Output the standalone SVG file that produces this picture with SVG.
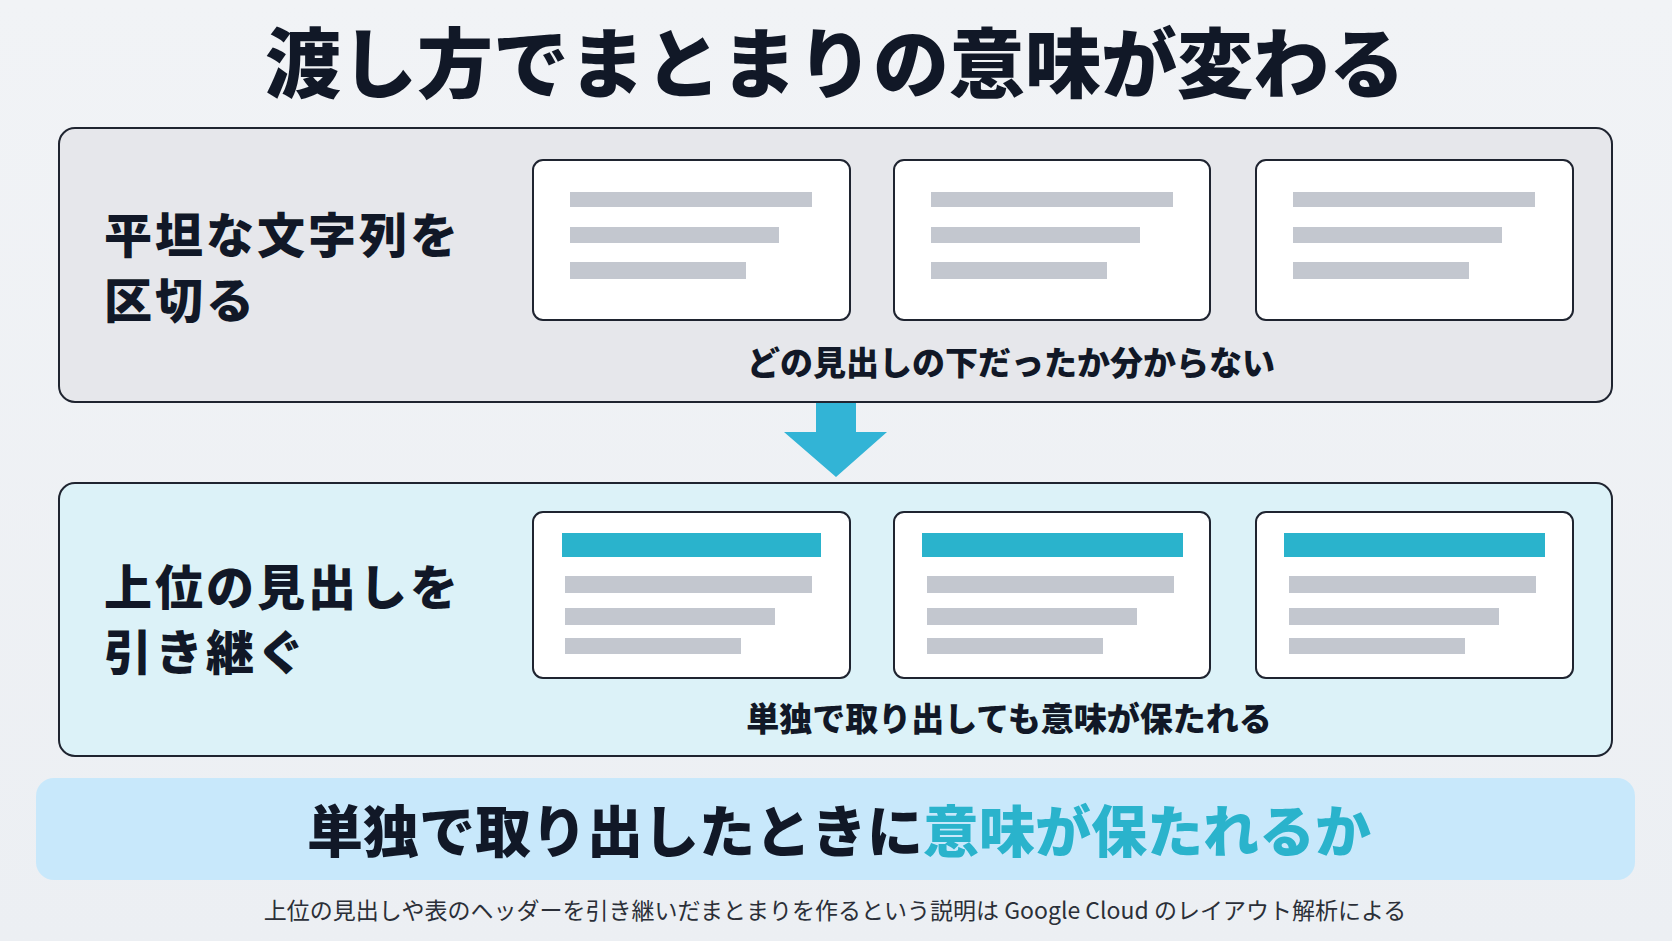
<svg xmlns="http://www.w3.org/2000/svg" width="1672" height="941" viewBox="0 0 1672 941">
<style>
text{font-family:"Noto Sans CJK JP","Noto Sans",sans-serif;fill:#111827}
.b{font-weight:900}
.lbl{font-size:48px;letter-spacing:3px}
.card{fill:#fff;stroke:#1f2430;stroke-width:2}
.g{fill:#c3c7cf}
.t{fill:#2ab3cc}
</style>
<defs><linearGradient id="bg" x1="0" y1="0" x2="0" y2="1"><stop offset="0" stop-color="#f1f3f6"/><stop offset="1" stop-color="#eceff3"/></linearGradient></defs>
<rect width="1672" height="941" fill="url(#bg)"/>
<text x="835" y="92" text-anchor="middle" class="b" font-size="76">渡し方でまとまりの意味が変わる</text>
<g id="panel1">
<rect x="59" y="128" width="1553" height="274" rx="16" fill="#e6e7eb" stroke="#1f2430" stroke-width="2"/>
<text x="104" y="253" class="b lbl">平坦な文字列を</text>
<text x="104" y="318" class="b lbl">区切る</text>
<text x="1011" y="375" text-anchor="middle" class="b" font-size="33">どの見出しの下だったか分からない</text>
</g>
<g id="card1a"><rect class="card" x="533" y="160" width="317" height="160" rx="10"/><rect class="g" x="570" y="192" width="242" height="15"/><rect class="g" x="570" y="227" width="209" height="16"/><rect class="g" x="570" y="262" width="176" height="17"/></g>
<g id="card1b"><rect class="card" x="894" y="160" width="316" height="160" rx="10"/><rect class="g" x="931" y="192" width="242" height="15"/><rect class="g" x="931" y="227" width="209" height="16"/><rect class="g" x="931" y="262" width="176" height="17"/></g>
<g id="card1c"><rect class="card" x="1256" y="160" width="317" height="160" rx="10"/><rect class="g" x="1293" y="192" width="242" height="15"/><rect class="g" x="1293" y="227" width="209" height="16"/><rect class="g" x="1293" y="262" width="176" height="17"/></g>
<g id="connectors">
<path d="M816 403H856V432H887L836 477L784 432H816Z" fill="#32b4d6"/>
</g>
<g id="panel2">
<rect x="59" y="483" width="1553" height="273" rx="16" fill="#dcf2f8" stroke="#1f2430" stroke-width="2"/>
<text x="104" y="605" class="b lbl">上位の見出しを</text>
<text x="104" y="670" class="b lbl">引き継ぐ</text>
<text x="1009" y="731" text-anchor="middle" class="b" font-size="33">単独で取り出しても意味が保たれる</text>
</g>
<g id="card2a"><rect class="card" x="533" y="512" width="317" height="166" rx="10"/><rect class="t" x="562" y="533" width="259" height="24"/><rect class="g" x="565" y="576" width="247" height="17"/><rect class="g" x="565" y="608" width="210" height="17"/><rect class="g" x="565" y="638" width="176" height="16"/></g>
<g id="card2b"><rect class="card" x="894" y="512" width="316" height="166" rx="10"/><rect class="t" x="922" y="533" width="261" height="24"/><rect class="g" x="927" y="576" width="247" height="17"/><rect class="g" x="927" y="608" width="210" height="17"/><rect class="g" x="927" y="638" width="176" height="16"/></g>
<g id="card2c"><rect class="card" x="1256" y="512" width="317" height="166" rx="10"/><rect class="t" x="1284" y="533" width="261" height="24"/><rect class="g" x="1289" y="576" width="247" height="17"/><rect class="g" x="1289" y="608" width="210" height="17"/><rect class="g" x="1289" y="638" width="176" height="16"/></g>
<g id="banner">
<rect x="36" y="778" width="1599" height="102" rx="18" fill="#c8e8fb"/>
<text x="839" y="852" text-anchor="middle" class="b" font-size="56">単独で取り出したときに<tspan style="fill:#2ab3cc">意味が保たれるか</tspan></text>
</g>
<text x="835" y="919" text-anchor="middle" font-size="23" style="fill:#2b2f38">上位の見出しや表のヘッダーを引き継いだまとまりを作るという説明は Google Cloud のレイアウト解析による</text>
</svg>
